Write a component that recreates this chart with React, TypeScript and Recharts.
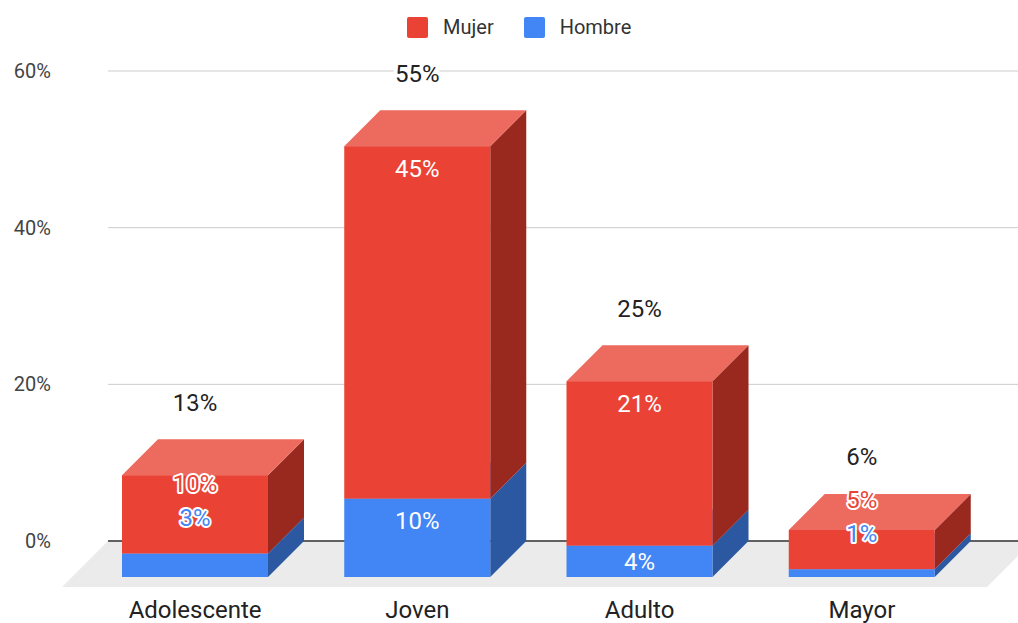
import {
  BarChart,
  Bar,
  XAxis,
  YAxis,
  CartesianGrid,
  ReferenceLine,
  LabelList,
} from 'recharts';

const categories = ['Adolescente', 'Joven', 'Adulto', 'Mayor'];
const mujer = [10, 45, 21, 5];
const hombre = [3, 10, 4, 1];
const totals = [13, 55, 25, 6];
const yTicks = [0, 20, 40, 60];

const COLORS = {
  Mujer: { front: '#EA4335', top: '#EC6A5E', side: '#99291F' },
  Hombre: { front: '#4285F4', top: '#6A9DF6', side: '#2B58A0' },
};

// depth of the fake 3d boxes, in px
const DEPTH = 36;
const FONT = 'Roboto, Arial, sans-serif';

const chartData = categories.map((name, i) => ({
  name,
  Hombre: hombre[i],
  Mujer: mujer[i],
  total: totals[i],
}));

function boxShape(colors: { front: string; top: string; side: string }) {
  return (props: any) => {
    const { x, y, width: w, height: h } = props;
    if (!h) return <g />;
    const d = DEPTH;
    return (
      <g>
        <polygon
          points={`${x + w - d},${y + d} ${x + w},${y} ${x + w},${y + h} ${x + w - d},${y + h + d}`}
          fill={colors.side}
        />
        <polygon
          points={`${x - d},${y + d} ${x},${y} ${x + w},${y} ${x + w - d},${y + d}`}
          fill={colors.top}
        />
        <rect x={x - d} y={y + d} width={w} height={h} fill={colors.front} />
      </g>
    );
  };
}

// floor + dark zero line, drawn from the y=0 reference line
function Floor(props: any) {
  const { x1, x2, y1 } = props;
  const f = 46;
  return (
    <g>
      <polygon
        points={`${x1},${y1} ${x2 + 15},${y1} ${x2 + 15 - f},${y1 + f} ${x1 - f},${y1 + f}`}
        fill="#ebebeb"
      />
      <line x1={x1} y1={y1} x2={x2} y2={y1} stroke="#333" strokeWidth={1.5} />
    </g>
  );
}

function StackLabels(props: any) {
  const vb = props.viewBox || props;
  const { x, y, width, height } = vb;
  const i = props.index;
  if (i == null || !height) return null;
  const ppu = height / mujer[i];
  const zeroY = y + height + hombre[i] * ppu;
  const cx = x + width / 2 - DEPTH;

  const segs = [
    { v: hombre[i], c: COLORS.Hombre.front },
    { v: mujer[i], c: COLORS.Mujer.front },
  ];
  let base = zeroY;
  let prev: number | null = null;
  const placed: { cy: number; halo: boolean; c: string; v: number }[] = [];
  segs.forEach((s) => {
    const h = s.v * ppu;
    const backTop = base - h;
    const frontTop = backTop + DEPTH;
    let cy: number;
    let halo: boolean;
    if (h >= 28) {
      cy = frontTop + Math.min(22, h / 2);
      halo = false;
    } else {
      cy = backTop;
      halo = true;
    }
    if (prev !== null && cy > prev - 34) {
      cy = prev - 34;
      halo = true;
    }
    placed.push({ cy, halo, c: s.c, v: s.v });
    prev = cy;
    base = backTop;
  });

  return (
    <g>
      {placed.map((p, k) => (
        <text
          key={k}
          x={cx}
          y={p.cy}
          dy="0.35em"
          textAnchor="middle"
          fontSize={24}
          fontFamily={FONT}
          fill={p.halo ? p.c : '#ffffff'}
          stroke={p.halo ? '#ffffff' : 'none'}
          strokeWidth={p.halo ? 4 : 0}
          strokeLinejoin="round"
          paintOrder="stroke"
        >
          {p.v}%
        </text>
      ))}
      <text
        x={cx}
        y={y - 37}
        dy="0.35em"
        textAnchor="middle"
        fontSize={24}
        fontFamily={FONT}
        fill="#222"
        stroke="#ffffff"
        strokeWidth={8}
        strokeLinejoin="round"
        paintOrder="stroke"
      >
        {totals[i]}%
      </text>
    </g>
  );
}

function XTick(props: any) {
  const { x, y, payload } = props;
  return (
    <text
      x={x - DEPTH}
      y={y}
      dy="0.355em"
      textAnchor="middle"
      fontSize={24}
      fontFamily={FONT}
      fill="#222"
    >
      {payload.value}
    </text>
  );
}

function LegendBox() {
  const items: [string, string][] = [
    ['Mujer', COLORS.Mujer.front],
    ['Hombre', COLORS.Hombre.front],
  ];
  return (
    <div
      style={{
        position: 'absolute',
        left: 407,
        top: 17,
        display: 'flex',
        alignItems: 'center',
        gap: 30,
        fontFamily: FONT,
        fontSize: 20,
        color: '#333',
      }}
    >
      {items.map(([label, color]) => (
        <div key={label} style={{ display: 'flex', alignItems: 'center', gap: 15 }}>
          <div style={{ width: 21, height: 21, borderRadius: 2, backgroundColor: color }} />
          <span style={{ lineHeight: '21px' }}>{label}</span>
        </div>
      ))}
    </div>
  );
}

export default function App() {
  return (
    <div style={{ position: 'absolute', left: 0, top: 0, width: 1018, height: 623, background: '#fff' }}>
      <BarChart
        width={1018}
        height={623}
        data={chartData}
        margin={{ top: 71, right: 0, bottom: 22, left: 0 }}
      >
        <CartesianGrid vertical={false} stroke="#cccccc" />
        <ReferenceLine y={0} shape={Floor} zIndex={-50} />
        <XAxis
          dataKey="name"
          height={60}
          axisLine={false}
          tickLine={false}
          tickMargin={62}
          padding={{ left: 12, right: 9 }}
          tick={<XTick />}
          interval={0}
        />
        <YAxis
          width={108}
          domain={[0, 60]}
          ticks={yTicks}
          axisLine={false}
          tickLine={false}
          tickMargin={51}
          tickFormatter={(v: number) => `${v}%`}
          tick={{ fontSize: 20, fill: '#444', fontFamily: FONT }}
        />
        <Bar
          dataKey="Hombre"
          stackId="a"
          barSize={146}
          fill={COLORS.Hombre.front}
          shape={boxShape(COLORS.Hombre)}
          isAnimationActive={false}
        />
        <Bar
          dataKey="Mujer"
          stackId="a"
          barSize={146}
          fill={COLORS.Mujer.front}
          shape={boxShape(COLORS.Mujer)}
          isAnimationActive={false}
        >
          <LabelList dataKey="Mujer" content={<StackLabels />} />
        </Bar>
      </BarChart>
      <LegendBox />
    </div>
  );
}
